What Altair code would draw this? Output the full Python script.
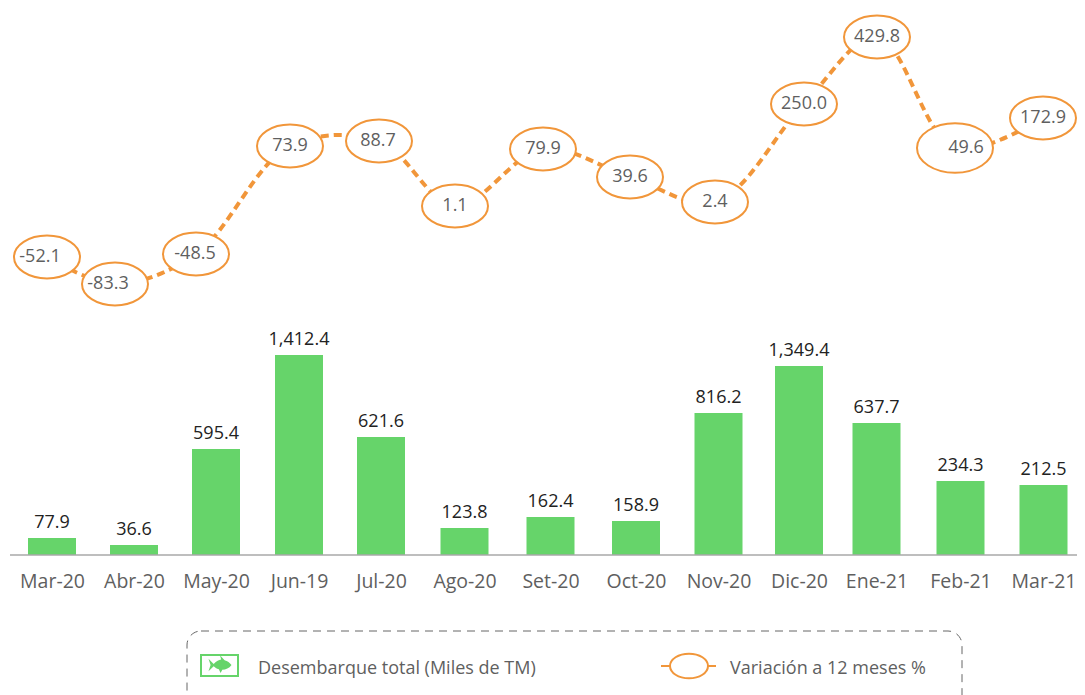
import altair as alt
import pandas as pd
import json

FONT = "Open Sans"
GREEN = "#66D46A"
ORANGE = "#F1963A"
GREY = "#5F5F5F"

months = ["Mar-20", "Abr-20", "May-20", "Jun-19", "Jul-20", "Ago-20", "Set-20", "Oct-20",
          "Nov-20", "Dic-20", "Ene-21", "Feb-21", "Mar-21"]
landings = [77.9, 36.6, 595.4, 1412.4, 621.6, 123.8, 162.4, 158.9, 816.2, 1349.4, 637.7, 234.3, 212.5]
landing_labels = ["77.9", "36.6", "595.4", "1,412.4", "621.6", "123.8", "162.4", "158.9",
                  "816.2", "1,349.4", "637.7", "234.3", "212.5"]
variation = [-52.1, -83.3, -48.5, 73.9, 88.7, 1.1, 79.9, 39.6, 2.4, 250.0, 429.8, 49.6, 172.9]

idx = list(range(len(months)))
df = pd.DataFrame({"i": idx, "month": months, "landings": landings, "label": landing_labels,
                   "variation": variation,
                   "vlabel": [f"{v:.1f}" for v in variation]})
one = pd.DataFrame({"a": [0]})
W, H = 1069, 687

# The source's drawn bar and marker positions are not linear in their values.
bar_x = alt.Scale(domain=idx, padding=0,
                  range=[44, 126, 208, 291, 373, 456.5, 542.5, 628, 710.5, 791, 868.5, 952.5, 1035.5])
bar_y = alt.Scale(domain=[0, 36.6, 77.9, 123.8, 158.9, 162.4, 212.5, 234.3, 595.4, 621.6, 637.7, 816.2, 1349.4, 1412.4],
                  padding=0,
                  range=[547, 537, 530, 520, 513, 509, 477, 473, 441, 429, 415, 405, 358, 347])
line_x = alt.Scale(domain=idx, padding=0,
                   range=[39, 107, 188, 282, 371, 447, 535, 622, 707, 796, 869, 947, 1035])
label_x = alt.Scale(domain=idx, padding=0,
                    range=[32, 100, 187, 282, 370, 447, 535, 622, 707, 796, 869, 958, 1035])
line_y_dom = [-83.3, -52.1, -48.5, 1.1, 2.4, 39.6, 49.6, 73.9, 79.9, 88.7, 172.9, 250.0, 429.8]
line_y = alt.Scale(domain=line_y_dom, padding=0,
                   range=[276, 249, 246, 198, 194, 169, 140, 138, 141, 133, 110, 96, 29])
ellipse = "M-1,0 A1,0.65,0,1,1,1,0 A1,0.65,0,1,1,-1,0 Z"
fish = ("M-1,-0.55 L-0.55,-0.08 C-0.3,-0.35 -0.1,-0.45 0.1,-0.48 L0,-0.85 L0.4,-0.42 "
        "C0.65,-0.35 0.85,-0.2 1,0 C0.8,0.3 0.5,0.4 0.2,0.42 L0.05,0.7 L-0.1,0.38 "
        "C-0.3,0.3 -0.45,0.2 -0.55,0.1 L-1,0.55 L-0.82,0 Z")

base = alt.Chart(df)
bars = base.mark_bar(color=GREEN, size=48).encode(
    x=alt.X("i:Q", scale=bar_x, title=None,
            axis=alt.Axis(domain=False, ticks=False, grid=False, labelAngle=0, labelFont=FONT, labelFontSize=19.5,
                          labelColor=GREY, labelPadding=0, offset=-(H - 547) + 17, labelOverlap=False,
                          labelFlush=False, values=idx, labelExpr=json.dumps(months) + "[datum.value]")),
    y=alt.Y("landings:Q", scale=bar_y, axis=None),
)
bar_text = base.mark_text(font=FONT, fontSize=18, color="#222222", baseline="bottom", dy=-6).encode(
    x=alt.X("i:Q", scale=bar_x),
    y=alt.Y("landings:Q", scale=bar_y, axis=None),
    text="label:N",
)
baseline = alt.Chart(one).mark_rule(color="#A8A8A8", strokeWidth=1.5).encode(
    x=alt.value(2), x2=alt.value(W), y=alt.value(547))
bar_layer = alt.layer(bars, baseline, bar_text)

line = base.mark_line(color=ORANGE, strokeWidth=4, strokeDash=[8, 5], interpolate="catmull-rom").encode(
    x=alt.X("i:Q", scale=line_x, axis=None),
    y=alt.Y("variation:Q", scale=line_y, axis=None),
)
marks = base.mark_point(shape=ellipse, filled=False, fill="white", fillOpacity=1, opacity=1,
                        stroke=ORANGE, strokeWidth=2).encode(
    x=alt.X("i:Q", scale=line_x, axis=None),
    y=alt.Y("variation:Q", scale=line_y, axis=None),
    size=alt.condition("datum.i == 11", alt.value(5776), alt.value(4356)),
)
line_layer = alt.layer(line, marks).resolve_scale(x="shared", y="shared")

line_text = base.mark_text(font=FONT, fontSize=18, color=GREY).encode(
    x=alt.X("i:Q", scale=label_x, axis=None),
    y=alt.Y("variation:Q", scale=line_y, axis=None),
    text="vlabel:N",
)

def vtext(txt, x, y):
    return alt.Chart(one).mark_text(font=FONT, fontSize=18, color=GREY, align="left").encode(
        x=alt.value(x), y=alt.value(y), text=alt.value(txt))

frame = alt.Chart(one).mark_rect(fill="transparent", stroke="#666666", strokeWidth=1,
                                 strokeDash=[8, 6], cornerRadius=14).encode(
    x=alt.value(179), x2=alt.value(954), y=alt.value(623), y2=alt.value(720))
swatch = alt.Chart(one).mark_rect(fill="white", stroke=GREEN, strokeWidth=2).encode(
    x=alt.value(193), x2=alt.value(230), y=alt.value(647), y2=alt.value(668))
fish_mark = alt.Chart(one).mark_point(shape=fish, filled=True, color=GREEN, opacity=1, size=529).encode(
    x=alt.value(212), y=alt.value(657))
stub = alt.Chart(one).mark_rule(color=ORANGE, strokeWidth=2).encode(
    x=alt.value(653), x2=alt.value(708), y=alt.value(658))
leg_ell = alt.Chart(one).mark_point(shape=ellipse, filled=False, fill="white", fillOpacity=1, opacity=1,
                                    stroke=ORANGE, strokeWidth=2, size=1444).encode(
    x=alt.value(681), y=alt.value(658))

chart = alt.layer(
    bar_layer, line_layer, line_text,
    frame, swatch, fish_mark, stub, leg_ell,
    vtext("Desembarque total (Miles de TM)", 250, 661),
    vtext("Variación a 12 meses %", 722, 661),
).resolve_scale(x="independent", y="independent").properties(
    width=W, height=H, padding=0, autosize=alt.AutoSizeParams(type="none"),
).configure_view(stroke=None)

chart.save("out.html", embed_options={"renderer": "svg", "actions": False})
